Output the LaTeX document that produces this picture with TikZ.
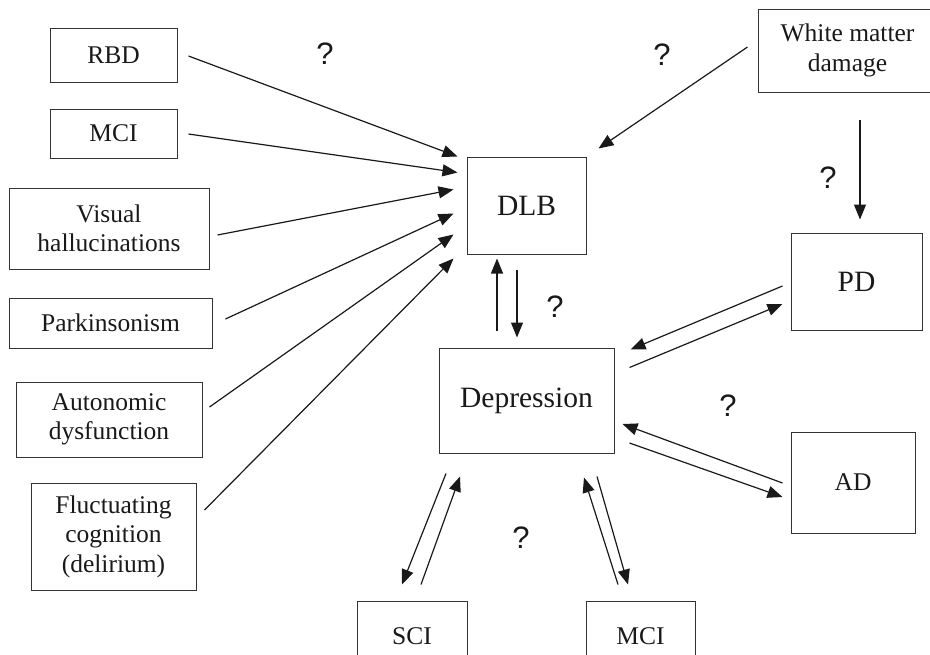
\documentclass[tikz,border=0pt]{standalone}
\usepackage{fontspec}
\setmainfont{Liberation Serif}
\newfontfamily\qfont{Liberation Sans}
\usetikzlibrary{arrows.meta,calc}
\begin{document}
\begin{tikzpicture}[x=1pt,y=-1pt,
  box/.style={draw=black!80, line width=1pt, inner sep=0pt, align=center, text=black!90,
    font=\fontsize{25.5}{29.5}\selectfont},
  big/.style={font=\fontsize{29.5}{34}\selectfont},
  conn/.style={-{Triangle[length=15pt,width=12pt]}, line width=1.2pt, black!90},
  qm/.style={font=\qfont\fontsize{31}{31}\selectfont, inner sep=0pt, text=black!90}]
\useasboundingbox (0,0) rectangle (930,654);
\clip (0,0) rectangle (930,654);

% left column
\node[box, minimum width=127pt, minimum height=54pt] (rbd) at (113.5,55) {RBD};
\node[box, minimum width=127pt, minimum height=49pt] (mcil) at (113.5,133.5) {MCI};
\node[box, minimum width=200pt, minimum height=81pt] (vh) at (109,228.5) {Visual\\hallucinations};
\node[box, minimum width=203pt, minimum height=50pt] (park) at (110.5,323) {Parkinsonism};
\node[box, minimum width=186pt, minimum height=75pt] (auto) at (109,419.5) {Autonomic\\dysfunction};
\node[box, minimum width=165pt, minimum height=107pt] (fluc) at (113.5,536.5) {Fluctuating\\cognition\\(delirium)};

% centre and right
\node[box, big, minimum width=119pt, minimum height=97pt] (dlb) at (526.5,205.5) {DLB};
\node[box, minimum width=179pt, minimum height=83pt] (wmd) at (847.5,50.5) {White matter\\damage};
\node[box, big, minimum width=131pt, minimum height=97pt] (pd) at (856.5,281.5) {PD};
\node[box, big, minimum width=175pt, minimum height=105pt] (dep) at (526.5,400.5) {Depression};
\node[box, minimum width=124pt, minimum height=101pt] (ad) at (853,482.5) {AD};
\node[box, minimum width=110pt, minimum height=70pt] (sci) at (412,636) {SCI};
\node[box, minimum width=109pt, minimum height=70pt] (mcib) at (640.5,636) {MCI};

% question marks
\node[qm] (q1) at (325,54) {?};
\node[qm] (q2) at (662,55) {?};
\node[qm] (q3) at (828,178) {?};
\node[qm] (q4) at (555,307) {?};
\node[qm] (q5) at (728,406) {?};
\node[qm] (q6) at (521,538) {?};

% arrows into DLB
\draw[conn] ($(rbd.east)+(11,1)$) -- ($(dlb.north west)+(-9,0)$);
\draw[conn] ($(mcil.east)+(11,0.5)$) -- ($(dlb.north west)+(-9,16)$);
\draw[conn] ($(vh.east)+(8,6.5)$) -- ($(dlb.north west)+(-13,33)$);
\draw[conn] ($(park.east)+(13,-4)$) -- ($(dlb.north west)+(-13,57)$);
\draw[conn] ($(auto.east)+(7,-12.5)$) -- ($(dlb.north west)+(-13,78)$);
\draw[conn] ($(fluc.east)+(8,-26.5)$) -- ($(dlb.north west)+(-13,102)$);

% white matter damage
\draw[conn] ($(wmd.west)+(-10,-3.5)$) -- ($(dlb.north east)+(12,-8)$);
\draw[conn] ($(wmd.south)+(12.5,27)$) -- ($(pd.north)+(3.5,-13)$);

% DLB <-> Depression
\draw[conn] ($(dep.north)+(-29.5,-17)$) -- ($(dlb.south)+(-29.5,4)$);
\draw[conn] ($(dlb.south)+(-9.5,15)$) -- ($(dep.north)+(-9.5,-10)$);

% PD <-> Depression
\draw[conn] ($(pd.west)+(-8,4.5)$) -- ($(dep.north east)+(16,2)$);
\draw[conn] ($(dep.north east)+(15,20)$) -- ($(pd.west)+(-8,22.5)$);

% AD <-> Depression
\draw[conn] ($(ad.west)+(-8,0.5)$) -- ($(dep.east)+(8,23.5)$);
\draw[conn] ($(dep.east)+(15,42.5)$) -- ($(ad.west)+(-8,14.5)$);

% SCI <-> Depression
\draw[conn] ($(dep.south)+(-80.5,20)$) -- ($(sci.north)+(-10,-16)$);
\draw[conn] ($(sci.north)+(9,-16)$) -- ($(dep.south)+(-66.5,23)$);

% MCI <-> Depression
\draw[conn] ($(mcib.north)+(-22.5,-16)$) -- ($(dep.south)+(57.5,24)$);
\draw[conn] ($(dep.south)+(70.5,23)$) -- ($(mcib.north)+(-12.5,-16)$);
\end{tikzpicture}
\end{document}
